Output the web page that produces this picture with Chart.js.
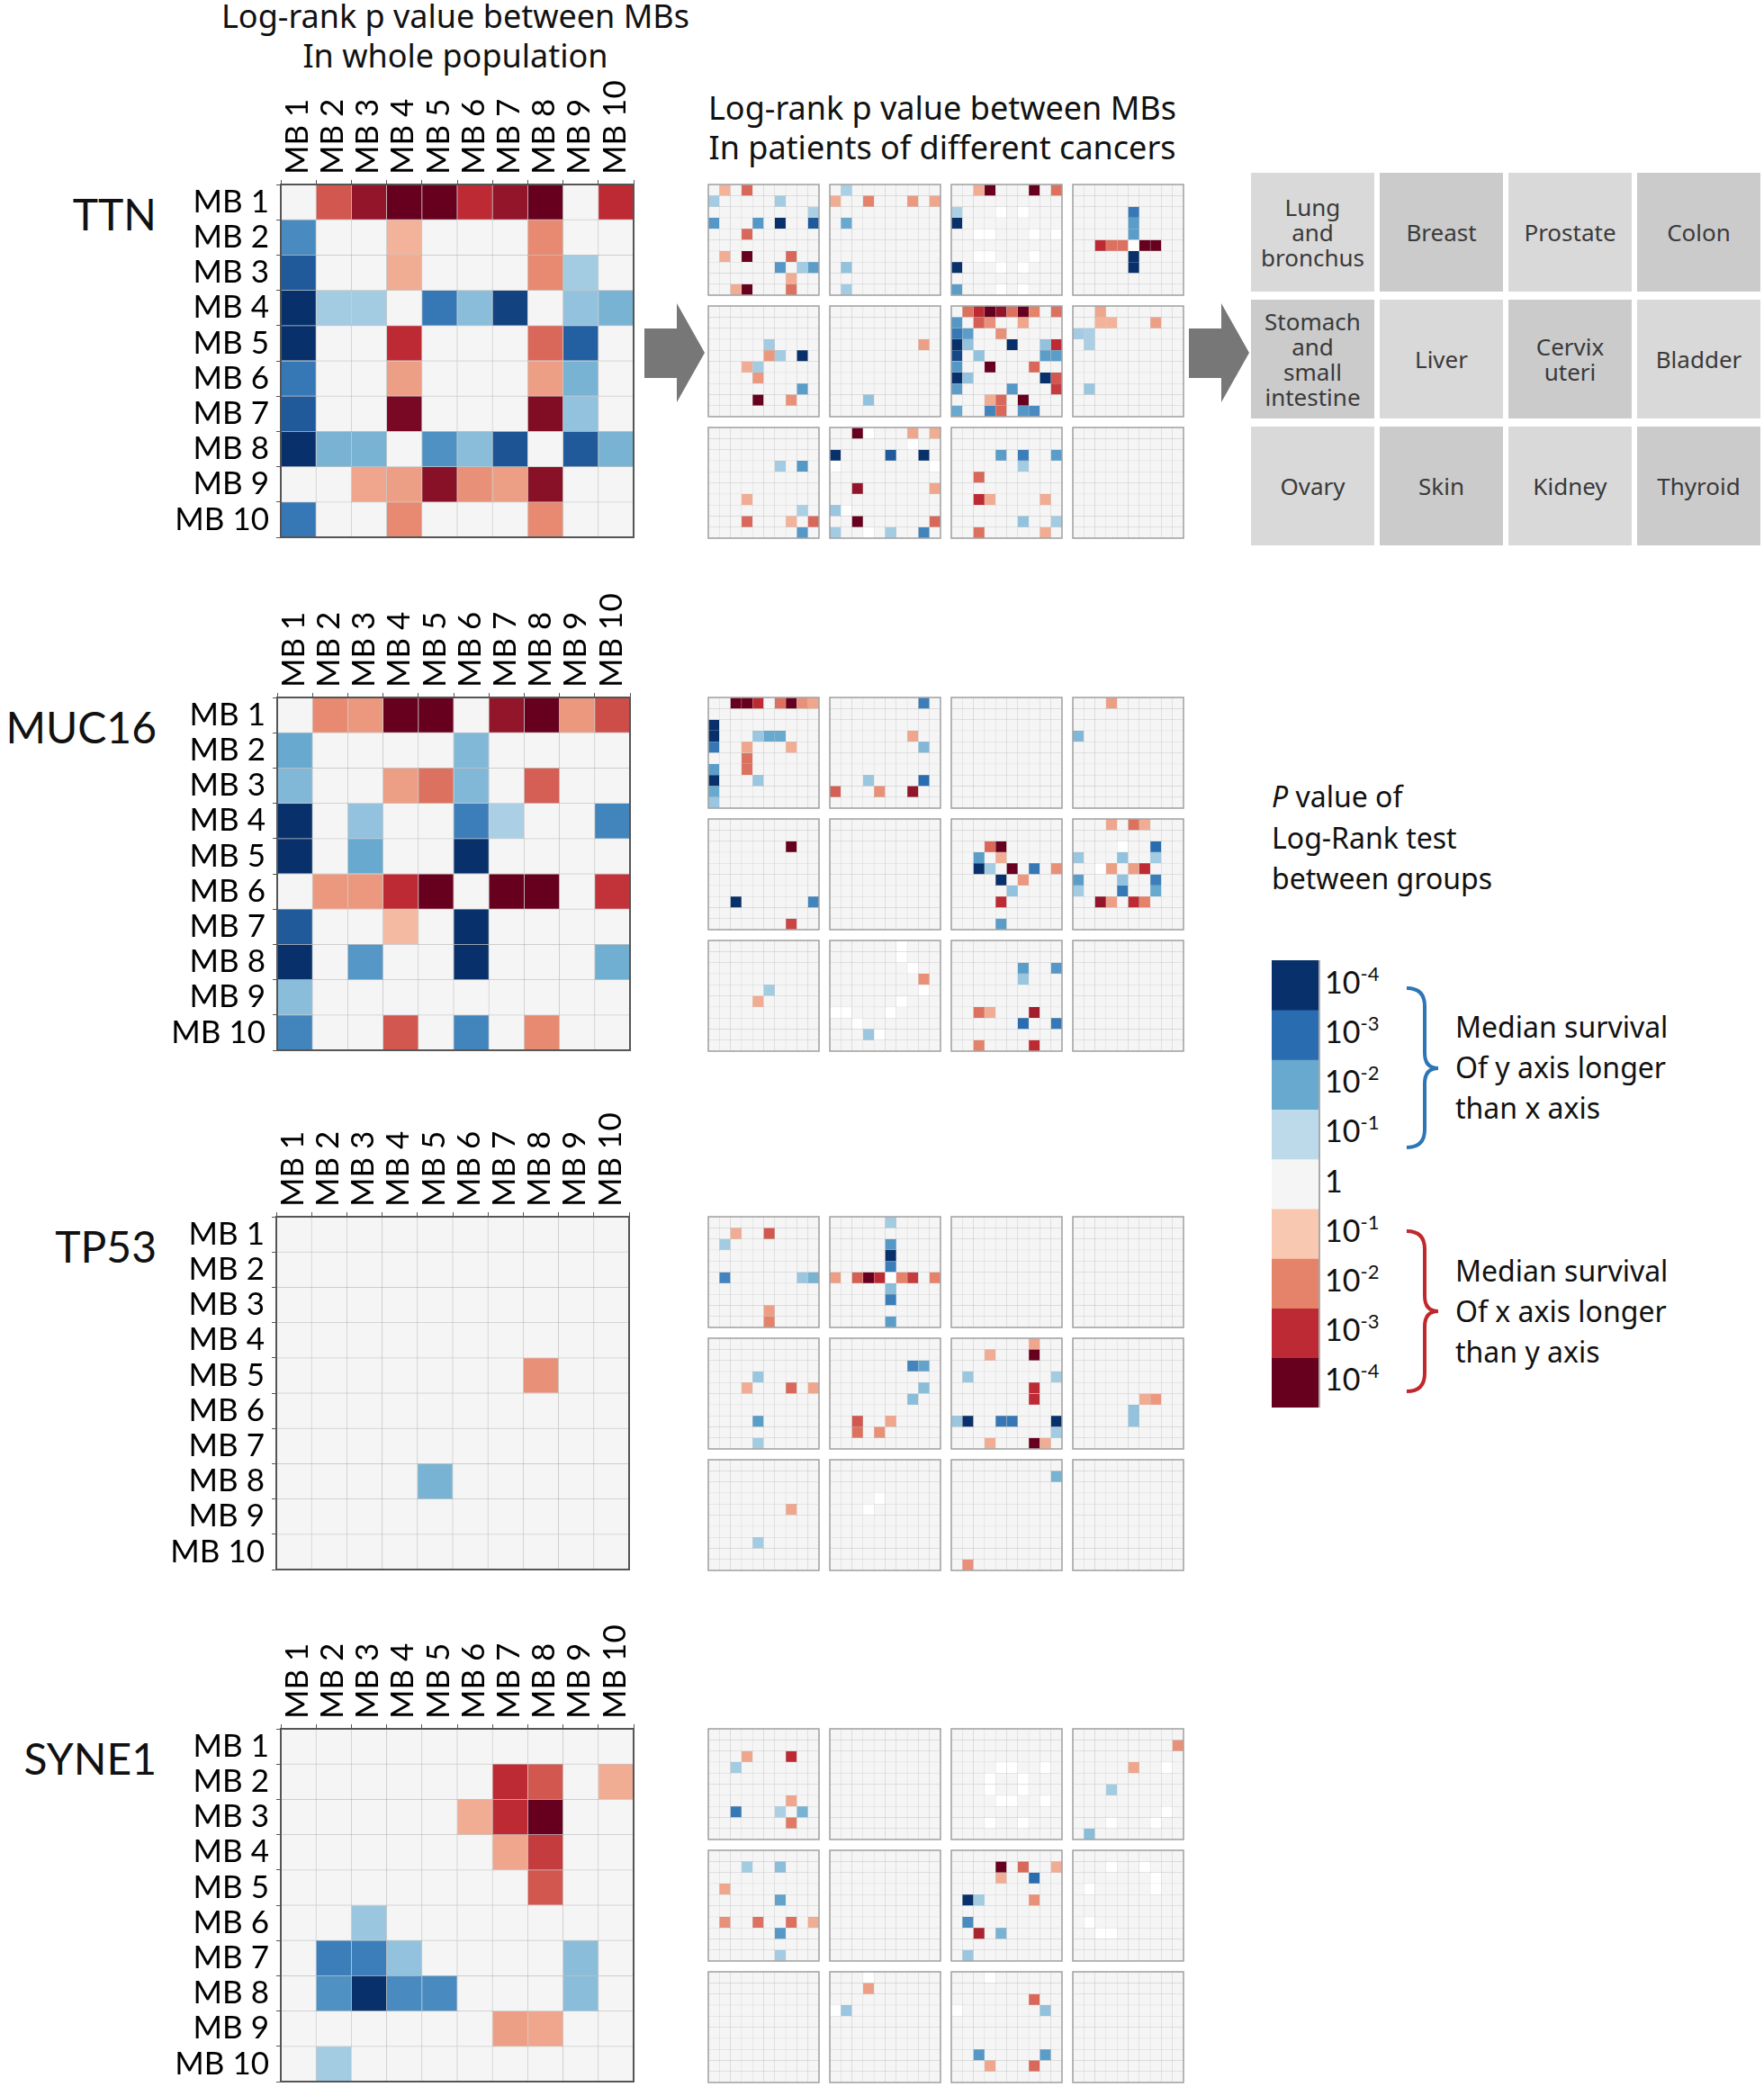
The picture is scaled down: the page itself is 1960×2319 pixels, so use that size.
<!DOCTYPE html>
<html lang="en">
<head>
<meta charset="UTF-8">
<title>Log-rank p value between MBs</title>
<script src="https://cdn.jsdelivr.net/npm/chart.js"></script>
<style>
    body {
        margin: 0;
        width: 1960px;
        height: 2319px;
        position: relative;
        overflow: hidden;
        background: #fff;
        font-family: 'Noto Sans', sans-serif;
        color: #111;
    }
    canvas { position: absolute; }
    .title {
        position: absolute;
        text-align: center;
        font-size: 36px;
        line-height: 44px;
        white-space: nowrap;
    }
    .gene {
        position: absolute;
        left: 0;
        width: 174px;
        text-align: right;
        font-family: Lato, sans-serif;
        font-size: 48px;
        line-height: 56px;
    }
    .cancer {
        position: absolute;
        width: 137px;
        height: 132px;
        display: flex;
        align-items: center;
        justify-content: center;
        text-align: center;
        font-size: 26px;
        line-height: 28px;
        color: #3a3a3a;
    }
    .legend-title {
        position: absolute;
        left: 1413px;
        top: 862px;
        font-size: 32px;
        line-height: 45.5px;
    }
    .tick {
        position: absolute;
        left: 1472px;
        font-family: Lato, sans-serif;
        font-size: 34px;
        line-height: 40px;
    }
    .tick sup { font-size: 22px; vertical-align: 14px; line-height: 0; }
    .note {
        position: absolute;
        left: 1617px;
        font-size: 32px;
        line-height: 45px;
        white-space: nowrap;
    }
    svg { position: absolute; left: 0; top: 0; }
</style>
</head>
<body>
<div class="title" style="left:206px; top:-4px; width:600px;">Log-rank p value between MBs<br>In whole population</div>
<div class="title" style="left:747px; top:98px; width:600px;">Log-rank p value between MBs<br>In patients of different cancers</div>
<div class="legend-title"><i>P</i> value of<br>Log-Rank test<br>between groups</div>
<div class="note" style="top:1118px;">Median survival<br>Of y axis longer<br>than x axis</div>
<div class="note" style="top:1389px;">Median survival<br>Of x axis longer<br>than y axis</div>

<svg width="1960" height="2319">
    <polygon points="716,365 752,365 752,337 783,392 752,447 752,420 716,420" fill="#777"/>
    <polygon points="1321,365 1357,365 1357,337 1388,392 1357,447 1357,420 1321,420" fill="#777"/>
    <path d="M1563 1098 Q1583 1098 1583 1118 L1583 1170 Q1583 1187 1598 1187 Q1583 1187 1583 1204 L1583 1255 Q1583 1275 1563 1275"
          fill="none" stroke="#2e75b6" stroke-width="4"/>
    <path d="M1563 1368 Q1583 1368 1583 1388 L1583 1440 Q1583 1457 1598 1457 Q1583 1457 1583 1474 L1583 1526 Q1583 1546 1563 1546"
          fill="none" stroke="#c0282d" stroke-width="4"/>
</svg>

<script>
    // levels: positive = blue (y axis longer), negative = red (x axis longer),
    // magnitude = -log10(p); null = no data (white)
    const mbLabels = ['MB 1', 'MB 2', 'MB 3', 'MB 4', 'MB 5', 'MB 6', 'MB 7', 'MB 8', 'MB 9', 'MB 10'];
    const genes = ['TTN', 'MUC16', 'TP53', 'SYNE1'];
    const cancerTypes = [
        ['Lung', 'and', 'bronchus'], ['Breast'], ['Prostate'], ['Colon'],
        ['Stomach', 'and', 'small', 'intestine'], ['Liver'], ['Cervix', 'uteri'], ['Bladder'],
        ['Ovary'], ['Skin'], ['Kidney'], ['Thyroid']
    ];
    const legendLevels = [4, 3, 2, 1, 0, -1, -2, -3, -4];
    const legendExponents = [-4, -3, -2, -1, 0, -1, -2, -3, -4];

    const ttnWhole = [
        [0, -2.5, -3.5, -4, -4, -3, -3.5, -4, 0, -3],
        [2.5, 0, 0, -1.3, 0, 0, 0, -1.9, 0, 0],
        [3.3, 0, 0, -1.4, 0, 0, 0, -1.9, 1.3, 0],
        [4, 1.3, 1.3, 0, 2.8, 1.6, 3.7, 0, 1.5, 1.8],
        [4, 0, 0, -3, 0, 0, 0, -2.3, 3.2, 0],
        [2.8, 0, 0, -1.6, 0, 0, 0, -1.6, 1.8, 0],
        [3.3, 0, 0, -3.8, 0, 0, 0, -3.7, 1.5, 0],
        [4, 1.8, 1.8, 0, 2.4, 1.6, 3.4, 0, 3.3, 1.8],
        [0, 0, -1.5, -1.6, -3.6, -1.8, -1.6, -3.6, 0, 0],
        [2.8, 0, 0, -1.9, 0, 0, 0, -1.9, 0, 0]
    ];
    const muc16Whole = [
        [0, -1.9, -1.7, -4, -4, 0, -3.5, -4, -1.7, -2.6],
        [2, 0, 0, 0, 0, 1.7, 0, 0, 0, 0],
        [1.7, 0, 0, -1.6, -2.2, 1.7, 0, -2.4, 0, 0],
        [4, 0, 1.5, 0, 0, 2.7, 1.2, 0, 0, 2.6],
        [4, 0, 2, 0, 0, 4, 0, 0, 0, 0],
        [0, -1.7, -1.7, -3, -4, 0, -4, -4, 0, -2.9],
        [3.3, 0, 0, -1.2, 0, 4, 0, 0, 0, 0],
        [4, 0, 2.3, 0, 0, 4, 0, 0, 0, 1.9],
        [1.6, 0, 0, 0, 0, 0, 0, 0, 0, 0],
        [2.6, 0, 0, -2.5, 0, 2.6, 0, -1.9, 0, 0]
    ];
    const tp53Whole = [
        [0, 0, 0, 0, 0, 0, 0, 0, 0, 0],
        [0, 0, 0, 0, 0, 0, 0, 0, 0, 0],
        [0, 0, 0, 0, 0, 0, 0, 0, 0, 0],
        [0, 0, 0, 0, 0, 0, 0, 0, 0, 0],
        [0, 0, 0, 0, 0, 0, 0, -1.8, 0, 0],
        [0, 0, 0, 0, 0, 0, 0, 0, 0, 0],
        [0, 0, 0, 0, 0, 0, 0, 0, 0, 0],
        [0, 0, 0, 0, 1.8, 0, 0, 0, 0, 0],
        [0, 0, 0, 0, 0, 0, 0, 0, 0, 0],
        [0, 0, 0, 0, 0, 0, 0, 0, 0, 0]
    ];
    const syne1Whole = [
        [0, 0, 0, 0, 0, 0, 0, 0, 0, 0],
        [0, 0, 0, 0, 0, 0, -3, -2.5, 0, -1.4],
        [0, 0, 0, 0, 0, -1.4, -3, -4, 0, 0],
        [0, 0, 0, 0, 0, 0, -1.5, -2.8, 0, 0],
        [0, 0, 0, 0, 0, 0, 0, -2.5, 0, 0],
        [0, 0, 1.4, 0, 0, 0, 0, 0, 0, 0],
        [0, 2.7, 2.7, 1.5, 0, 0, 0, 0, 1.6, 0],
        [0, 2.4, 4, 2.5, 2.5, 0, 0, 0, 1.6, 0],
        [0, 0, 0, 0, 0, 0, -1.6, -1.5, 0, 0],
        [0, 1.3, 0, 0, 0, 0, 0, 0, 0, 0]
    ];

    // per cancer type: [row, col, level] for the non-neutral cells
    const ttnByCancer = [
        [[0,1,-1.3],[0,3,-2.3],[1,0,1.3],[1,6,1.3],[2,9,1.2],[3,0,2.3],[3,4,2.3],[3,6,4],[3,9,3.3],[4,3,-2.3],
         [6,1,-1.4],[6,3,-4],[6,7,-2.3],[7,6,2.3],[7,8,1.3],[7,9,2.2],[8,7,-1.4],[9,2,-1.4],[9,3,-4],[9,7,-2.2]],
        [[0,1,1.2],[1,0,-1.4],[1,3,-2],[1,7,-1.7],[1,9,-1.5],[3,1,2],[7,1,1.5],[9,1,1.3]],
        [[0,2,-1.4],[0,3,-4],[0,7,-4],[0,9,-2.2],[2,0,1.2],[3,0,4],[7,0,4],[9,0,2.2],
         [2,4,null],[2,6,null],[4,2,null],[4,3,null],[4,7,null],[4,9,null],[6,2,null],[6,3,null],[6,7,null],
         [7,4,null],[7,6,null],[9,4,null],[9,6,null]],
        [[2,5,2.8],[3,5,2.2],[4,5,2.2],[5,2,-3],[5,3,-2.2],[5,4,-2.2],[5,5,null],[5,6,-4],[5,7,-4],[6,5,4],[7,5,4]],
        [[3,5,1.3],[4,5,-1.7],[4,6,1.3],[4,8,4],[5,3,-1.4],[5,4,1.3],[6,4,-1.7],[7,8,2.2],[8,4,-4],[8,7,-1.8]],
        [[3,8,-1.6],[8,3,1.5]],
        [[0,1,-2.2],[0,2,-3],[0,3,-4],[0,4,-3.5],[0,5,-2.2],[0,6,-4],[0,7,-2],[0,9,-2.2],
         [1,0,2.3],[1,2,-2.4],[1,3,-1.8],[1,6,-1.5],[2,0,2.8],[2,1,2.2],[2,4,-1.8],
         [3,0,4],[3,1,1.5],[3,5,4],[3,8,1.5],[3,9,-3],[4,0,3.6],[4,2,1.5],[4,8,2.2],[4,9,2.2],
         [5,0,2.3],[5,3,-4],[5,7,-2.3],[6,0,4],[6,1,1.5],[6,8,4],[6,9,-2.5],[7,0,2.2],[7,5,2.3],[7,9,-2.8],
         [8,3,-1.4],[8,4,-2.3],[8,6,-4],[9,0,2],[9,3,2.6],[9,4,-2.3],[9,6,2.3],[9,7,2.5]],
        [[0,2,-1.5],[1,2,-1.3],[1,3,-1.3],[1,7,-1.6],[2,0,1.3],[2,1,1.2],[3,1,1.2],[7,1,1.4]],
        [[3,6,1.3],[3,8,2.3],[6,3,-1.4],[7,8,1.2],[8,3,-2.3],[8,7,-1.3],[8,9,-2.3],[9,8,2.3]],
        [[0,2,-4],[0,3,null],[0,7,-1.5],[0,9,-1.4],[1,7,null],[2,0,4],[2,5,3.3],[2,8,4],[3,0,null],[3,9,null],
         [5,2,-3.5],[5,9,-1.5],[7,0,1.4],[7,1,null],[8,2,-4],[8,9,-2.3],[9,0,1.3],[9,3,null],[9,5,1.3],[9,8,2.6]],
        [[2,4,2.2],[2,6,2.7],[2,9,2.2],[3,6,1.3],[4,2,-2.3],[6,2,-3],[6,3,-1.4],[6,8,-1.4],
         [8,6,1.5],[8,9,1.3],[9,2,-2.2],[9,8,-1.4]],
        []
    ];
    const muc16ByCancer = [
        [[0,2,-4],[0,3,-4],[0,4,-3],[0,6,-2.2],[0,7,-4],[0,8,-1.8],[0,9,-1.5],[2,0,4],[3,0,4],[3,4,1.4],
         [3,5,2],[3,6,2],[4,0,2.8],[4,3,-1.5],[4,7,-1.4],[5,3,-2.2],[6,3,-2.2],[6,0,2.2],[7,0,4],[7,4,1.4],
         [8,0,2],[9,0,1.4]],
        [[0,8,2.7],[3,7,-1.5],[4,8,1.7],[7,3,1.4],[7,8,3],[8,0,-2.4],[8,4,-1.8],[8,7,-3.5]],
        [],
        [[0,3,-1.6],[3,0,1.7]],
        [[2,7,-4],[7,2,4],[7,9,2.6],[9,7,-2.7]],
        [],
        [[2,3,-2.3],[2,4,-4],[3,2,2.2],[3,4,-1.4],[4,2,4],[4,3,1.3],[4,5,-4],[4,7,2.8],[4,9,-1.8],
         [5,4,4],[5,6,-1.7],[6,5,1.5],[7,4,-3],[9,4,2.2]],
        [[0,3,-1.5],[0,5,-2.2],[0,6,-1.4],[2,4,null],[2,7,3],[3,0,1.4],[3,4,1.5],[3,7,1.3],[4,2,null],
         [4,3,-1.6],[4,5,-1.6],[4,6,-3],[5,0,2.2],[5,4,1.5],[5,7,2.7],[6,0,1.3],[6,4,2.8],[6,7,2],
         [7,2,-3.5],[7,3,-1.6],[7,5,-3],[7,6,-2]],
        [[4,5,1.3],[5,4,-1.4]],
        [[3,8,-1.8],[8,3,1.4],[0,6,null],[1,6,null],[2,7,null],[4,8,null],[5,6,null],[6,0,null],
         [6,1,null],[6,5,null],[7,2,null],[8,4,null]],
        [[2,6,2.2],[2,9,2.3],[3,6,1.4],[6,2,-2.2],[6,3,-1.4],[6,7,-3.3],[7,6,3],[7,9,2.8],[9,2,-2],[9,7,-3]],
        []
    ];
    const tp53ByCancer = [
        [[1,2,-1.4],[1,5,-2.5],[2,1,1.3],[5,1,2.6],[5,8,1.4],[5,9,1.8],[8,5,-1.6],[9,5,-2]],
        [[0,5,1.3],[2,5,2.3],[3,5,4],[4,5,2.7],[5,5,null],[6,5,1.6],[7,5,2.7],[9,5,2.2],
         [5,0,-1.6],[5,2,-2.4],[5,3,-4],[5,4,-3],[5,6,-2],[5,7,-2.8],[5,9,-2]],
        [],
        [],
        [[3,4,1.4],[4,3,-1.4],[4,7,-2.3],[4,9,-1.5],[7,4,2.2],[9,4,1.3]],
        [[2,7,2.6],[2,8,2.1],[4,8,1.6],[5,7,1.6],[7,2,-2.5],[7,5,-1.5],[8,2,-2.2],[8,4,-1.8]],
        [[0,7,-1.5],[1,3,-1.4],[1,7,-4],[3,1,1.4],[3,9,1.3],[4,7,-3],[5,7,-3],[7,0,1.4],[7,1,4],
         [7,4,2.8],[7,5,2.8],[7,9,4],[8,9,1.3],[9,3,-1.4],[9,7,-4],[9,8,-1.4]],
        [[5,6,-1.4],[5,7,-1.7],[6,5,1.5],[7,5,1.5]],
        [[4,7,-1.5],[7,4,1.3]],
        [[3,4,null],[4,3,null]],
        [[1,9,1.8],[9,1,-1.8]],
        []
    ];
    const syne1ByCancer = [
        [[2,3,-1.5],[2,7,-3],[3,2,1.3],[6,7,-1.5],[7,2,2.8],[7,6,1.2],[7,8,1.8],[8,7,-2.1]],
        [],
        [[3,4,null],[3,5,null],[3,8,null],[4,3,null],[4,6,null],[5,3,null],[5,6,null],[6,4,null],
         [6,5,null],[6,8,null],[8,3,null],[8,6,null]],
        [[1,9,-1.8],[3,5,-1.5],[5,3,1.3],[9,1,1.6],[3,8,null],[7,8,null],[8,3,null],[8,7,null]],
        [[1,3,1.3],[1,6,1.6],[3,1,-1.5],[4,6,2.1],[6,1,-1.8],[6,4,-2.2],[6,7,-2.2],[6,9,-1.4],[7,6,2.3],[9,6,1.3]],
        [],
        [[1,4,-4],[1,6,-2.3],[1,9,-1.4],[2,4,-1.4],[2,7,3],[4,1,4],[4,2,1.3],[4,7,-1.8],[6,1,2.5],
         [7,2,-3.2],[7,4,1.8],[9,1,1.4]],
        [[1,3,null],[1,6,null],[2,7,null],[3,1,null],[3,7,null],[6,1,null],[7,2,null],[7,3,null]],
        [],
        [[0,3,null],[1,3,-1.6],[3,0,null],[3,1,1.4]],
        [[0,3,null],[2,7,-2.3],[3,0,null],[3,8,1.5],[7,2,2.3],[7,8,2.2],[8,3,-1.5],[8,7,-2.3]],
        []
    ];

    const wholeByGene = [ttnWhole, muc16Whole, tp53Whole, syne1Whole];
    const cancerByGene = [ttnByCancer, muc16ByCancer, tp53ByCancer, syne1ByCancer];

    // layout
    const gridLeft = [312, 308, 307, 312];
    const gridTop = [205, 775, 1352, 1921];
    const GRID = 392, MINI = 123, MINI_STEP_X = 135, MINI_STEP_Y = 135, MINI_LEFT = 787;

    const blueStops = ['#f5f5f5', '#bcdaea', '#67a9cf', '#2a6cb0', '#08306b'];
    const redStops = ['#f5f5f5', '#f9c8b0', '#e5836a', '#bd2a33', '#67001f'];

    function hexToRgb(h) {
        return [1, 3, 5].map(i => parseInt(h.slice(i, i + 2), 16));
    }
    function levelColor(v) {
        if (v === null) return '#ffffff';
        const stops = v >= 0 ? blueStops : redStops;
        const a = Math.min(Math.abs(v), 4);
        const i = Math.min(Math.floor(a), 3), t = a - i;
        const c0 = hexToRgb(stops[i]), c1 = hexToRgb(stops[i + 1]);
        const c = c0.map((x, k) => Math.round(x + (c1[k] - x) * t));
        return `rgb(${c[0]},${c[1]},${c[2]})`;
    }

    const framePlugin = {
        id: 'frame',
        afterDatasetsDraw(chart, args, opts) {
            const a = chart.chartArea, ctx = chart.ctx;
            ctx.save();
            ctx.strokeStyle = opts.color;
            ctx.lineWidth = opts.width;
            ctx.strokeRect(a.left, a.top, a.right - a.left, a.bottom - a.top);
            ctx.restore();
        }
    };

    function heatDatasets(matrix, bw, lineColor) {
        return matrix.map(row => ({
            data: row.map(() => 1),
            backgroundColor: row.map(levelColor),
            borderColor: lineColor,
            borderWidth: bw,
            borderSkipped: false,
            barPercentage: 1,
            categoryPercentage: 1
        }));
    }

    function addCanvas(left, top, w, h) {
        const cv = document.createElement('canvas');
        cv.width = w; cv.height = h;
        cv.style.left = left + 'px';
        cv.style.top = top + 'px';
        document.body.appendChild(cv);
        return cv;
    }

    // keep the axis from shrinking the plot area for label overhang
    function noOverhang(s) {
        s.paddingLeft = 0; s.paddingRight = 0; s.paddingTop = 0; s.paddingBottom = 0;
    }

    function bigHeatmap(matrix, left, top) {
        const axisW = 140, axisH = 150, pad = 4;
        const cv = addCanvas(left - axisW, top - axisH, axisW + GRID + pad, axisH + GRID + pad);
        const tickFont = { family: 'Lato', size: 35, lineHeight: 1.2 };
        new Chart(cv, {
            type: 'bar',
            data: { labels: mbLabels, datasets: heatDatasets(matrix, 0.75, 'rgba(110,110,110,0.28)') },
            options: {
                responsive: false,
                animation: false,
                layout: { padding: { right: pad, bottom: pad } },
                plugins: { legend: { display: false }, tooltip: { enabled: false }, frame: { color: '#555', width: 2 } },
                scales: {
                    x: {
                        position: 'top',
                        stacked: true,
                        border: { display: false },
                        grid: { drawOnChartArea: false, tickLength: 5, color: '#555' },
                        ticks: {
                            minRotation: 90, maxRotation: 90, autoSkip: false, color: '#000', font: tickFont,
                            padding: 6, labelOffset: 41
                        },
                        afterFit: s => { s.height = axisH; noOverhang(s); }
                    },
                    y: {
                        type: 'linear',
                        reverse: true,
                        stacked: true,
                        min: 0,
                        max: 10,
                        border: { display: false },
                        grid: { drawOnChartArea: false, tickLength: 5, color: '#555' },
                        ticks: {
                            stepSize: 1, autoSkip: false, labelOffset: GRID / 20, color: '#000', font: tickFont, padding: 8,
                            callback: v => mbLabels[v] || ''
                        },
                        afterFit: s => { s.width = axisW; noOverhang(s); }
                    }
                }
            },
            plugins: [framePlugin]
        });
    }

    function miniHeatmap(cells, left, top) {
        const m = Array.from({ length: 10 }, () => Array(10).fill(0));
        cells.forEach(([r, c, v]) => { m[r][c] = v; });
        const cv = addCanvas(left - 1, top - 1, MINI + 2, MINI + 2);
        new Chart(cv, {
            type: 'bar',
            data: { labels: mbLabels, datasets: heatDatasets(m, 0.5, 'rgba(110,110,110,0.25)') },
            options: {
                responsive: false,
                animation: false,
                layout: { padding: 1 },
                plugins: { legend: { display: false }, tooltip: { enabled: false }, frame: { color: '#a0a0a0', width: 1.5 } },
                scales: {
                    x: { display: false, stacked: true },
                    y: { display: false, type: 'linear', reverse: true, stacked: true, min: 0, max: 10 }
                }
            },
            plugins: [framePlugin]
        });
    }

    genes.forEach((gene, g) => {
        const label = document.createElement('div');
        label.className = 'gene';
        label.textContent = gene;
        label.style.top = (gridTop[g] + 5) + 'px';
        document.body.appendChild(label);

        bigHeatmap(wholeByGene[g], gridLeft[g], gridTop[g]);
        cancerByGene[g].forEach((cells, k) => {
            miniHeatmap(cells, MINI_LEFT + (k % 4) * MINI_STEP_X, gridTop[g] + Math.floor(k / 4) * MINI_STEP_Y);
        });
    });

    // cancer type key
    cancerTypes.forEach((lines, k) => {
        const col = k % 4, row = Math.floor(k / 4);
        const box = document.createElement('div');
        box.className = 'cancer';
        box.style.left = (1390 + col * 143) + 'px';
        box.style.top = (192 + row * 141) + 'px';
        box.style.background = (col + row) % 2 ? '#cbcbcb' : '#d9d9d9';
        box.innerHTML = lines.join('<br>');
        document.body.appendChild(box);
    });

    // colour scale
    const barTop = 1067, barH = 497, cellH = barH / legendLevels.length;
    const scaleCanvas = addCanvas(1413, barTop, 54, barH);
    new Chart(scaleCanvas, {
        type: 'bar',
        data: {
            labels: [''],
            datasets: legendLevels.map(v => ({
                data: [1], backgroundColor: levelColor(v), borderWidth: 0,
                barPercentage: 1, categoryPercentage: 1
            }))
        },
        options: {
            responsive: false,
            animation: false,
            layout: { padding: { right: 1 } },
            plugins: { legend: { display: false }, tooltip: { enabled: false } },
            scales: {
                x: { display: false, stacked: true },
                y: { display: false, type: 'linear', reverse: true, stacked: true, min: 0, max: legendLevels.length }
            }
        },
        plugins: [{
            id: 'edge',
            afterDatasetsDraw(chart) {
                const a = chart.chartArea, ctx = chart.ctx;
                ctx.save();
                ctx.strokeStyle = '#aaa';
                ctx.lineWidth = 2;
                ctx.beginPath();
                ctx.moveTo(a.right, a.top);
                ctx.lineTo(a.right, a.bottom);
                ctx.stroke();
                ctx.restore();
            }
        }]
    });
    legendExponents.forEach((e, i) => {
        const t = document.createElement('div');
        t.className = 'tick';
        t.innerHTML = e === 0 ? '1' : '10<sup>' + e + '</sup>';
        t.style.top = (barTop + i * cellH + cellH / 2 - 24) + 'px';
        document.body.appendChild(t);
    });
</script>
</body>
</html>
